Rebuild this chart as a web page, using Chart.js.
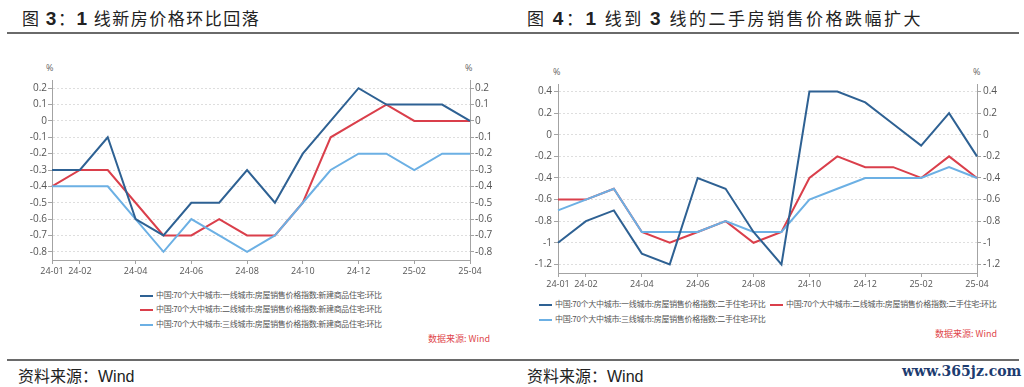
<!DOCTYPE html>
<html lang="zh">
<head>
<meta charset="UTF-8">
<title>图3 图4</title>
<script src="https://cdn.jsdelivr.net/npm/chart.js"></script>
<style>
  body { margin: 0; background: #fff; }
  .page { position: relative; width: 1024px; height: 387px; overflow: hidden;
          font-family: "Noto Sans CJK SC", sans-serif; color: #222; }
  .abs { position: absolute; white-space: nowrap; }
  .title { font-size: 17px; line-height: 20px; }
  .title b { font-family: "Liberation Sans", sans-serif; font-weight: bold; font-size: 19px; }
  .rule { position: absolute; height: 2px; background: #6a6a6a; }
  .unit { font-size: 9px; color: #666; font-family: "Open Sans", sans-serif; }
  .legend { font-size: 8px; color: #555; line-height: 12px; letter-spacing: -0.3px; }
  .legend i { display: inline-block; width: 13px; height: 2px; vertical-align: middle; margin-right: 3px; }
  .src { font-size: 9px; color: #e0474c; }
  .foot { font-size: 16px; color: #222; line-height: 20px; }
  .foot span { font-family: "Liberation Sans", sans-serif; }
  .mark { font-family: "DejaVu Serif", serif; font-weight: bold; font-size: 14px; color: #1d3c70; }
  canvas { position: absolute; }
</style>
</head>
<body>
<div class="page">
  <div class="abs title" style="left:22px; top:8px; letter-spacing:1.5px;">图 <b>3</b>：<b>1</b> 线新房价格环比回落</div>
  <div class="rule" style="left:7px; top:32px; width:505px;"></div>
  <div class="abs title" style="left:527px; top:8px; letter-spacing:2.5px;">图 <b>4</b>：<b>1</b> 线到 <b>3</b> 线的二手房销售价格跌幅扩大</div>
  <div class="rule" style="left:512px; top:32px; width:507px;"></div>

  <div class="abs unit" style="left:46px; top:61px;">%</div>
  <div class="abs unit" style="left:465px; top:61px;">%</div>
  <canvas id="newChart" width="512" height="240" style="left:0; top:40px;"></canvas>

  <div class="abs unit" style="left:553px; top:65px;">%</div>
  <div class="abs unit" style="left:973px; top:65px;">%</div>
  <canvas id="usedChart" width="512" height="250" style="left:512px; top:44px;"></canvas>

  <div class="abs legend" style="left:140px; top:289px;"><i style="background:#2e6193"></i>中国:70个大中城市:一线城市:房屋销售价格指数:新建商品住宅:环比</div>
  <div class="abs legend" style="left:140px; top:303px;"><i style="background:#da3f4b"></i>中国:70个大中城市:二线城市:房屋销售价格指数:新建商品住宅:环比</div>
  <div class="abs legend" style="left:140px; top:318px;"><i style="background:#6cb0e4"></i>中国:70个大中城市:三线城市:房屋销售价格指数:新建商品住宅:环比</div>
  <div class="abs src" style="left:428px; top:332px;">数据来源: Wind</div>

  <div class="abs legend" style="left:539px; top:298px;"><i style="background:#2e6193"></i>中国:70个大中城市:一线城市:房屋销售价格指数:二手住宅:环比</div>
  <div class="abs legend" style="left:770px; top:298px;"><i style="background:#da3f4b"></i>中国:70个大中城市:二线城市:房屋销售价格指数:二手住宅:环比</div>
  <div class="abs legend" style="left:539px; top:313px;"><i style="background:#6cb0e4"></i>中国:70个大中城市:三线城市:房屋销售价格指数:二手住宅:环比</div>
  <div class="abs src" style="left:935px; top:327px;">数据来源: Wind</div>

  <div class="rule" style="left:7px; top:359px; width:1012px;"></div>
  <div class="abs foot" style="left:18px; top:365px;">资料来源：<span>Wind</span></div>
  <div class="abs foot" style="left:527px; top:365px;">资料来源：<span>Wind</span></div>
  <div class="abs mark" style="left:902px; top:363px;">www.365jz.com</div>
</div>

<script>
  // months on the x axis, and which of them get a label
  const months = ['24-01', '24-02', '24-03', '24-04', '24-05', '24-06', '24-07', '24-08',
                  '24-09', '24-10', '24-11', '24-12', '25-01', '25-02', '25-03', '25-04'];
  const shownMonths = ['24-01', '24-02', '24-04', '24-06', '24-08', '24-10', '24-12', '25-02', '25-04'];

  // 图3: new homes, m/m %
  const newTier1 = [-0.3, -0.3, -0.1, -0.6, -0.7, -0.5, -0.5, -0.3, -0.5, -0.2, 0.0, 0.2, 0.1, 0.1, 0.1, 0.0];
  const newTier2 = [-0.4, -0.3, -0.3, -0.5, -0.7, -0.7, -0.6, -0.7, -0.7, -0.5, -0.1, 0.0, 0.1, 0.0, 0.0, 0.0];
  const newTier3 = [-0.4, -0.4, -0.4, -0.6, -0.8, -0.6, -0.7, -0.8, -0.7, -0.5, -0.3, -0.2, -0.2, -0.3, -0.2, -0.2];
  const newTicks = [0.2, 0.1, 0, -0.1, -0.2, -0.3, -0.4, -0.5, -0.6, -0.7, -0.8];

  // 图4: second-hand homes, m/m %
  const usedTier1 = [-1.0, -0.8, -0.7, -1.1, -1.2, -0.4, -0.5, -0.9, -1.2, 0.4, 0.4, 0.3, 0.1, -0.1, 0.2, -0.2];
  const usedTier2 = [-0.6, -0.6, -0.5, -0.9, -1.0, -0.9, -0.8, -1.0, -0.9, -0.4, -0.2, -0.3, -0.3, -0.4, -0.2, -0.4];
  const usedTier3 = [-0.7, -0.6, -0.5, -0.9, -0.9, -0.9, -0.8, -0.9, -0.9, -0.6, -0.5, -0.4, -0.4, -0.4, -0.3, -0.4];
  const usedTicks = [0.4, 0.2, 0, -0.2, -0.4, -0.6, -0.8, -1, -1.2];

  const DARK = '#2e6193', RED = '#da3f4b', LIGHT = '#6cb0e4';
  const AXIS = '#a3a3a3';
  const tickFont = { family: 'Open Sans', size: 10 };

  function yScale(pos, yMin, yMax, ticks, width, pad) {
    return {
      position: pos,
      min: yMin,
      max: yMax,
      afterBuildTicks: s => { s.ticks = ticks.map(v => ({ value: v })); },
      afterFit: s => { s.width = width; },
      border: { color: AXIS, dash: [2, 2] },
      grid: {
        drawOnChartArea: pos === 'left',
        color: '#dedede',
        tickColor: AXIS,
        tickLength: 4
      },
      ticks: {
        padding: pad,
        color: '#555',
        font: tickFont,
        callback: v => String(Number(v.toFixed(1)))
      }
    };
  }

  function drawChart(id, series, yMin, yMax, ticks, box) {
    new Chart(document.getElementById(id), {
      type: 'line',
      data: {
        labels: months,
        datasets: [
          { data: series[0], borderColor: DARK, order: 0 },
          { data: series[1], borderColor: RED, order: 2 },
          { data: series[2], borderColor: LIGHT, order: 1 }
        ]
      },
      options: {
        responsive: false,
        animation: false,
        layout: { padding: { top: box.top, left: 0, right: 0, bottom: 0 } },
        elements: {
          line: { borderWidth: 2, tension: 0 },
          point: { radius: 0 }
        },
        plugins: { legend: { display: false }, tooltip: { enabled: false } },
        scales: {
          x: {
            offset: false,
            afterFit: s => { s.height = box.bottom; },
            border: { color: AXIS },
            grid: {
              drawOnChartArea: false,
              tickLength: 4,
              tickColor: c => shownMonths.includes(months[c.index]) ? AXIS : 'rgba(0,0,0,0)'
            },
            ticks: {
              autoSkip: false,
              maxRotation: 0,
              padding: 2,
              color: '#555',
              font: { family: 'Open Sans', size: 9 },
              callback: (v, i) => shownMonths.includes(months[i]) ? months[i] : ''
            }
          },
          y: yScale('left', yMin, yMax, ticks, box.left, box.pad),
          y2: yScale('right', yMin, yMax, ticks, box.right, box.pad)
        }
      }
    });
  }

  drawChart('newChart', [newTier1, newTier2, newTier3], -0.85, 0.25, newTicks,
            { top: 40, bottom: 20, left: 52, right: 42, pad: 1 });
  drawChart('usedChart', [usedTier1, usedTier2, usedTier3], -1.28, 0.47, usedTicks,
            { top: 40, bottom: 21, left: 46, right: 47, pad: 2 });
</script>
</body>
</html>
